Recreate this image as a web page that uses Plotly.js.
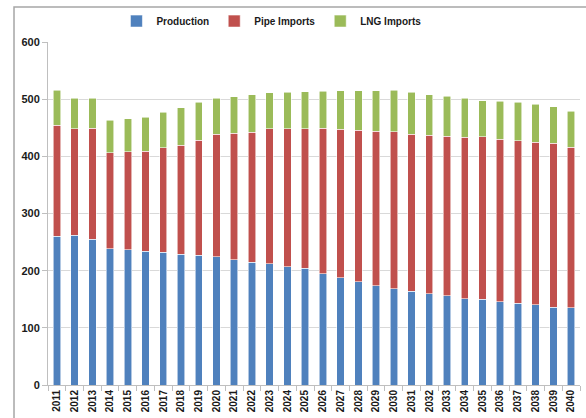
<!DOCTYPE html>
<html>
<head>
<meta charset="utf-8">
<script src="https://cdn.plot.ly/plotly-3.0.1.min.js"></script>
<style>
html,body{margin:0;padding:0;background:#fff;}
#chart{width:586px;height:418px;}
</style>
</head>
<body>
<div id="chart"></div>
<script>
var years = ['2011','2012','2013','2014','2015','2016','2017','2018','2019','2020',
             '2021','2022','2023','2024','2025','2026','2027','2028','2029','2030',
             '2031','2032','2033','2034','2035','2036','2037','2038','2039','2040'];
var production = [260,262,255,238,237,234,232,229,227,224,
                  219,215,212,207,204,195,188,181,174,168,
                  164,160,156,151,150,146,143,140,136,135];
var pipeImports = [194,186,194,168,171,175,183,190,201,215,
                   221,227,236,241,244,254,259,265,270,275,
                   275,277,279,282,284,284,284,285,287,281];
var lngImports = [62,54,53,57,58,59,62,66,67,63,
                  64,66,63,64,65,65,68,69,71,73,
                  73,71,70,69,63,66,68,66,64,63];
var yTicks = [0,100,200,300,400,500,600];

var fontFam = 'Liberation Sans Narrow, Liberation Sans, Arial, sans-serif';
var edge = {color:'rgba(255,255,255,0.7)', width:0.8};

var traces = [
  {type:'bar', name:'Production', x:years, y:production, marker:{color:'#4F81BD', line:edge}},
  {type:'bar', name:'Pipe Imports', x:years, y:pipeImports, marker:{color:'#C0504D', line:edge}},
  {type:'bar', name:'LNG Imports', x:years, y:lngImports, marker:{color:'#9BBB59', line:edge}}
];

var layout = {
  width:586, height:418,
  margin:{l:48, r:6, t:42, b:33},
  paper_bgcolor:'#fff', plot_bgcolor:'#fff',
  barmode:'stack', bargap:0.58,
  showlegend:true,
  legend:{orientation:'h', traceorder:'normal', x:0.42, xanchor:'center', y:1.061, yanchor:'middle',
          font:{family:fontFam, size:10, color:'#1a1a1a', weight:'bold'},
          itemwidth:30, bgcolor:'rgba(0,0,0,0)'},
  xaxis:{type:'category', tickangle:-90, tickson:'boundaries', ticks:'outside', ticklen:5,
         tickcolor:'#bfbfbf', showline:true, linecolor:'#bfbfbf', linewidth:1,
         showgrid:false, tickfont:{family:fontFam, size:10, color:'#1a1a1a', weight:'bold'},
         fixedrange:true},
  yaxis:{range:[0,600], tickvals:yTicks, ticks:'outside', ticklen:5, tickcolor:'#bfbfbf',
         showline:true, linecolor:'#bfbfbf', linewidth:1, showgrid:true, gridcolor:'#d9d9d9',
         zeroline:false, tickfont:{family:fontFam, size:11, color:'#1a1a1a', weight:'bold'},
         fixedrange:true},
  shapes:[{type:'rect', xref:'paper', yref:'paper', x0:-0.0639, x1:1.2, y0:-0.2, y1:1.102,
           line:{color:'#a6a6a6', width:1.5}, fillcolor:'rgba(0,0,0,0)', layer:'below'}]
};

Plotly.newPlot('chart', traces, layout, {displayModeBar:false, staticPlot:true});
</script>
</body>
</html>
